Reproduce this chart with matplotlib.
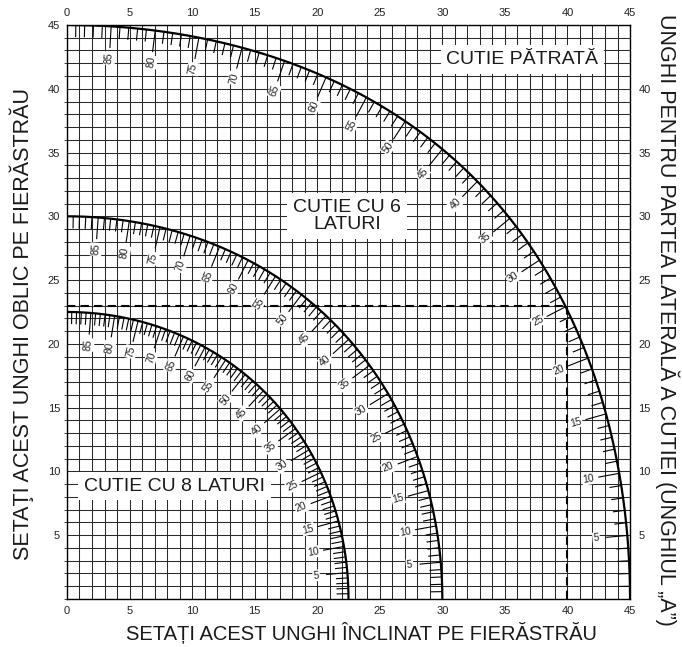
import numpy as np
import matplotlib
matplotlib.use("Agg")
import matplotlib.pyplot as plt
from matplotlib.collections import LineCollection

plt.rcParams['font.family'] = ['Liberation Sans', 'DejaVu Sans']

# boxes on the chart: number of sides, name, where the name sits
box_sides = [4, 6, 8]
box_names = ["CUTIE PĂTRATĂ", "CUTIE CU 6\nLATURI", "CUTIE CU 8 LATURI"]
box_name_pos = [(36.4, 42.3), (22.4, 30.0), (8.6, 8.85)]

# side angle "A" scale along every curve (degrees)
side_angles = list(range(1, 90))
side_labels = [5, 10, 15, 20, 25, 30, 35, 40, 45, 50, 55, 60, 65, 70, 75, 80, 85]

# worked example (square box, A = 25)
example_bevel = 40
example_miter = 23

x_ticks = [0, 5, 10, 15, 20, 25, 30, 35, 40, 45]
left_ticks = [5, 10, 15, 20, 25, 30, 35, 40, 45]
right_ticks = [5, 10, 15, 20, 25, 30, 35, 40]


def saw_angles(a_deg, sides):
    # compound miter: blade tilt (bevel) and miter gauge angle for side angle A
    half = np.radians(180.0 / sides)
    a = np.radians(np.asarray(a_deg, dtype=float))
    bevel = np.degrees(np.arcsin(np.cos(a) * np.sin(half)))
    miter = np.degrees(np.arctan(np.sin(a) * np.tan(half)))
    return bevel, miter


def inward_normal(a_deg, sides):
    b1, m1 = saw_angles(np.asarray(a_deg) - 0.05, sides)
    b2, m2 = saw_angles(np.asarray(a_deg) + 0.05, sides)
    tx, ty = b2 - b1, m2 - m1
    n = np.hypot(tx, ty)
    nx, ny = ty / n, -tx / n
    b, m = saw_angles(a_deg, sides)
    flip = np.where(nx * b + ny * m > 0, -1.0, 1.0)
    return nx * flip, ny * flip


fig = plt.figure(figsize=(6.82, 6.47), dpi=100)
ax = fig.add_axes([0.0982, 0.0742, 0.8256, 0.8872])
ax.set_xlim(0, 45)
ax.set_ylim(0, 45)

sx = 0.8256 * 682 / 45.0
sy = 0.8872 * 647 / 45.0

ax.set_xticks(x_ticks)
ax.set_yticks(left_ticks)
ax.set_xticks(np.arange(0, 46, 1), minor=True)
ax.set_yticks(np.arange(0, 46, 1), minor=True)
ax.grid(which='both', color='#2a2a2a', lw=0.75)
ax.set_axisbelow(True)
ax.tick_params(which='both', length=0, labelsize=8, colors='#222222',
               top=True, labeltop=True, pad=5)
ax.tick_params(axis='y', which='minor', length=2, left=True, color='#2a2a2a')
for s in ax.spines.values():
    s.set_linewidth(1.0)

sec = ax.secondary_yaxis('right')
sec.set_yticks(right_ticks)
sec.tick_params(length=0, labelsize=8, colors='#222222', pad=6)
sec.spines['right'].set_visible(False)

dense = np.linspace(0, 90, 721)
for sides in box_sides:
    b, m = saw_angles(dense, sides)
    ax.plot(b, m, color='black', lw=1.6, zorder=4, solid_capstyle='butt')

    angs = np.array(side_angles, dtype=float)
    pb, pm = saw_angles(angs, sides)
    nx, ny = inward_normal(angs, sides)
    lens = np.where(np.isin(angs, side_labels), 1.7, 0.95)
    segs = [[(pb[i], pm[i]), (pb[i] + nx[i] * lens[i], pm[i] + ny[i] * lens[i])]
            for i in range(len(angs))]
    ax.add_collection(LineCollection(segs, colors='black', linewidths=0.8, zorder=4))

    lb, lm = saw_angles(side_labels, sides)
    lnx, lny = inward_normal(side_labels, sides)
    for k, val in enumerate(side_labels):
        rot = np.degrees(np.arctan2(-lny[k] * sy, -lnx[k] * sx))
        ax.text(lb[k] + lnx[k] * 2.5, lm[k] + lny[k] * 2.5, str(val),
                fontsize=7.5, color='#222222', ha='center', va='center',
                rotation=rot, rotation_mode='anchor', zorder=5,
                bbox=dict(boxstyle='square,pad=0.08', fc='white', ec='none'))

ax.plot([0, example_bevel], [example_miter, example_miter], color='black',
        lw=1.5, ls=(0, (4, 2.5)), zorder=3)
ax.plot([example_bevel, example_bevel], [0, example_miter], color='black',
        lw=1.5, ls=(0, (4, 2.5)), zorder=3)

for name, (x, y) in zip(box_names, box_name_pos):
    ax.text(x, y, name, fontsize=14, color='#1a1a1a', ha='center', va='center',
            linespacing=1.0, zorder=6,
            bbox=dict(boxstyle='square,pad=0.3', fc='white', ec='none'))

fig.text(0.032, 0.5, "SETAŢI ACEST UNGHI OBLIC PE FIERĂSTRĂU", rotation=90,
         ha='center', va='center', fontsize=15.5, color='#1a1a1a')
fig.text(0.53, 0.021, "SETAȚI ACEST UNGHI ÎNCLINAT PE FIERĂSTRĂU",
         ha='center', va='center', fontsize=14.5, color='#1a1a1a')
fig.text(0.979, 0.505, "UNGHI PENTRU PARTEA LATERALĂ A CUTIEI (UNGHIUL „A”)",
         rotation=-90, ha='center', va='center', fontsize=15.5, color='#1a1a1a')

fig.savefig("out.png", dpi=100, facecolor='white')
